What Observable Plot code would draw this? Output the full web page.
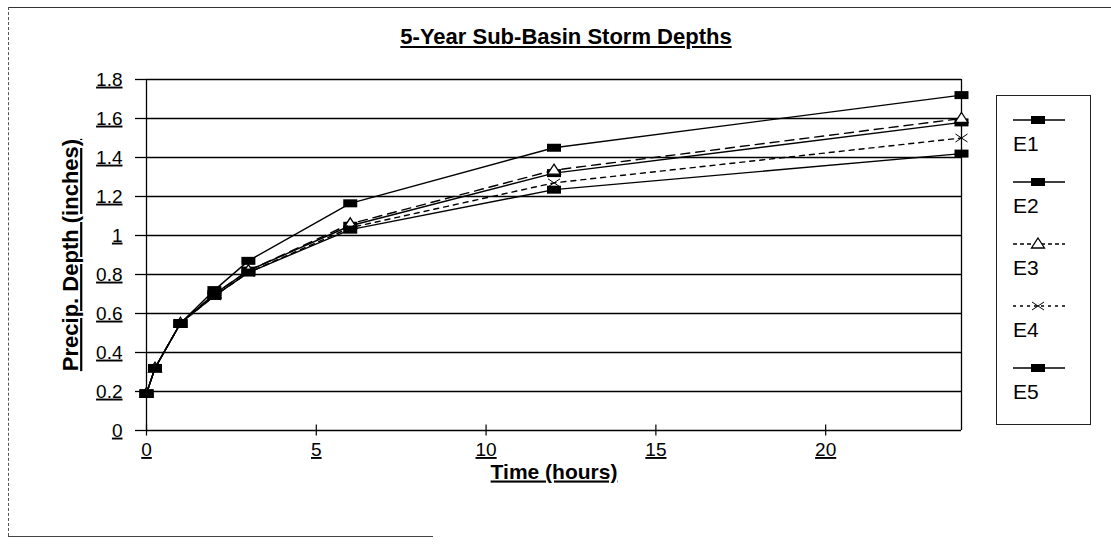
<!DOCTYPE html>
<html>
<head>
<meta charset="utf-8">
<script src="https://cdn.jsdelivr.net/npm/d3@7"></script>
<script src="https://cdn.jsdelivr.net/npm/@observablehq/plot@0.6"></script>
<style>
  html, body { margin: 0; padding: 0; background: #fff; }
  body { width: 1111px; height: 547px; overflow: hidden; font-family: "Liberation Sans", Arial, sans-serif; }
  #wrap { position: relative; width: 1111px; height: 547px; }
  #chart { position: absolute; left: 0; top: 0; }
  .frame-top { position: absolute; left: 8px; top: 7px; width: 1103px; border-top: 1.5px solid #333; }
  .frame-left { position: absolute; left: 8px; top: 7px; height: 529px; border-left: 1px dashed #555; }
  .frame-bottom { position: absolute; left: 8px; top: 536px; width: 425px; border-top: 1.5px solid #444; }
  #title { position: absolute; left: 398px; top: 26px; width: 336px; text-align: center; font: bold 22px "Liberation Sans", Arial, sans-serif; text-decoration: underline; white-space: nowrap; line-height: 22px; }
  #legend { position: absolute; left: 996px; top: 95px; width: 93px; height: 328px; border: 1.5px solid #222; }
  #legend svg { position: absolute; left: 0; top: 0; }
  svg g[aria-label="y-axis tick label"] text,
  svg g[aria-label="x-axis tick label"] text { text-decoration: underline; }
  svg g[aria-label="y-axis label"] text,
  svg g[aria-label="x-axis label"] text { text-decoration: underline; font-weight: bold; }
</style>
</head>
<body>
<div id="wrap">
  <div class="frame-top"></div>
  <div class="frame-left"></div>
  <div class="frame-bottom"></div>
  <div id="chart"></div>
  <div id="title"></div>
  <div id="legend"></div>
</div>
<script>
// ---- data ----
const chartTitle = "5-Year Sub-Basin Storm Depths";
const xLabel = "Time (hours)";
const yLabel = "Precip. Depth (inches)";
const seriesNames = ["E1", "E2", "E3", "E4", "E5"];
const times = [0, 0.25, 1, 2, 3, 6, 12, 24];
const E1 = [0.19, 0.32, 0.55, 0.72, 0.87, 1.165, 1.45, 1.72];
const E2 = [0.19, 0.32, 0.55, 0.70, 0.82, 1.05, 1.32, 1.58];
const E3 = [0.19, 0.32, 0.55, 0.70, 0.82, 1.06, 1.335, 1.60];
const E4 = [0.19, 0.32, 0.55, 0.69, 0.81, 1.04, 1.27, 1.50];
const E5 = [0.19, 0.32, 0.55, 0.69, 0.81, 1.03, 1.235, 1.42];
const xTicks = [0, 5, 10, 15, 20];
const xTickLabels = ["0", "5", "10", "15", "20"];
const yTicks = [0, 0.2, 0.4, 0.6, 0.8, 1, 1.2, 1.4, 1.6, 1.8];
const yTickLabels = ["0", "0.2", "0.4", "0.6", "0.8", "1", "1.2", "1.4", "1.6", "1.8"];

// ---- styles per series ----
const seriesValues = {E1, E2, E3, E4, E5};
const dash = {E1: null, E2: null, E3: "9,6", E4: "5,5", E5: null};
const rectSym = {draw(ctx) { ctx.moveTo(-7, -4); ctx.lineTo(7, -4); ctx.lineTo(7, 4); ctx.lineTo(-7, 4); ctx.closePath(); }};
const triSym = {draw(ctx) { ctx.moveTo(0, -6); ctx.lineTo(6.5, 4); ctx.lineTo(-6.5, 4); ctx.closePath(); }};
const xSym = {draw(ctx) { ctx.moveTo(-6, -4); ctx.lineTo(6, 4); ctx.moveTo(-6, 4); ctx.lineTo(6, -4); }};
const markerStyle = {
  E1: {symbol: rectSym, fill: "black", stroke: "none"},
  E2: {symbol: rectSym, fill: "black", stroke: "none"},
  E3: {symbol: triSym, fill: "white", stroke: "black", strokeWidth: 1.3},
  E4: {symbol: xSym, fill: "none", stroke: "black", strokeWidth: 1},
  E5: {symbol: rectSym, fill: "black", stroke: "none"}
};

const rows = seriesNames.flatMap(s => times.map((t, i) => ({series: s, t, v: seriesValues[s][i]})));
const font = '"Liberation Sans", Arial, sans-serif';

const lineMarks = seriesNames.map(s => Plot.line(rows.filter(d => d.series === s), {
  x: "t", y: "v", stroke: "black", strokeWidth: 1.4,
  strokeDasharray: dash[s] || undefined
}));
const dotOrder = ["E2", "E3", "E4", "E5", "E1"];
const dotMarks = dotOrder.map(s => Plot.dot(rows.filter(d => d.series === s), {
  x: "t", y: "v", r: 5, ...markerStyle[s]
}));

const chart = Plot.plot({
  width: 1111,
  height: 547,
  marginLeft: 146,
  marginRight: 150,
  marginTop: 79,
  marginBottom: 117,
  style: {fontFamily: font, fontSize: "19px", color: "black", background: "transparent", overflow: "visible"},
  x: {domain: [0, 24]},
  y: {domain: [0, 1.8]},
  marks: [
    Plot.gridY(yTicks, {stroke: "black", strokeOpacity: 1, strokeWidth: 1.3}),
    Plot.ruleX([0], {stroke: "black", strokeWidth: 1.3}),
    Plot.ruleX([24], {stroke: "black", strokeWidth: 1.3}),
    Plot.axisY(yTicks, {
      tickSize: 11, tickPadding: 13, tickFormat: (d, i) => yTickLabels[i],
      fontSize: 19, strokeWidth: 1.3,
      label: yLabel, labelAnchor: "center", labelOffset: 84, labelArrow: false
    }),
    Plot.axisX(xTicks, {tickSize: 11, dy: -5.5, tickFormat: () => "", label: null, strokeWidth: 1.2}),
    Plot.axisX(xTicks, {
      tickSize: 0, tickPadding: 12, tickFormat: (d, i) => xTickLabels[i], fontSize: 19,
      label: xLabel, labelAnchor: "center", labelOffset: 48, labelArrow: false
    }),
    ...lineMarks,
    ...dotMarks
  ]
});
document.getElementById("chart").appendChild(chart);
// axis label font size
chart.querySelectorAll('g[aria-label="y-axis label"] text, g[aria-label="x-axis label"] text').forEach(t => {
  t.setAttribute("font-size", t.closest('g').getAttribute("aria-label").startsWith("y") ? 22 : 21);
});

document.getElementById("title").textContent = chartTitle;

// ---- legend ----
const lg = d3.select("#legend").append("svg").attr("width", 96).attr("height", 332);
seriesNames.forEach((s, i) => {
  const y0 = 24 + i * 62;
  const g = lg.append("g").attr("transform", `translate(0,${y0})`);
  g.append("line").attr("x1", 16).attr("x2", 68).attr("y1", 0).attr("y2", 0)
    .attr("stroke", "black").attr("stroke-width", 1.3)
    .attr("stroke-dasharray", dash[s] ? (s === "E3" ? "4,3" : "3,4") : null);
  const st = markerStyle[s];
  const path = d3.path();
  st.symbol.draw(path, 25);
  g.append("path").attr("d", path.toString()).attr("transform", "translate(41,0)")
    .attr("fill", st.fill).attr("stroke", st.stroke).attr("stroke-width", st.strokeWidth || 0);
  g.append("text").attr("x", 16).attr("y", 31).attr("font-family", font).attr("font-size", 21).text(s);
});
</script>
</body>
</html>
